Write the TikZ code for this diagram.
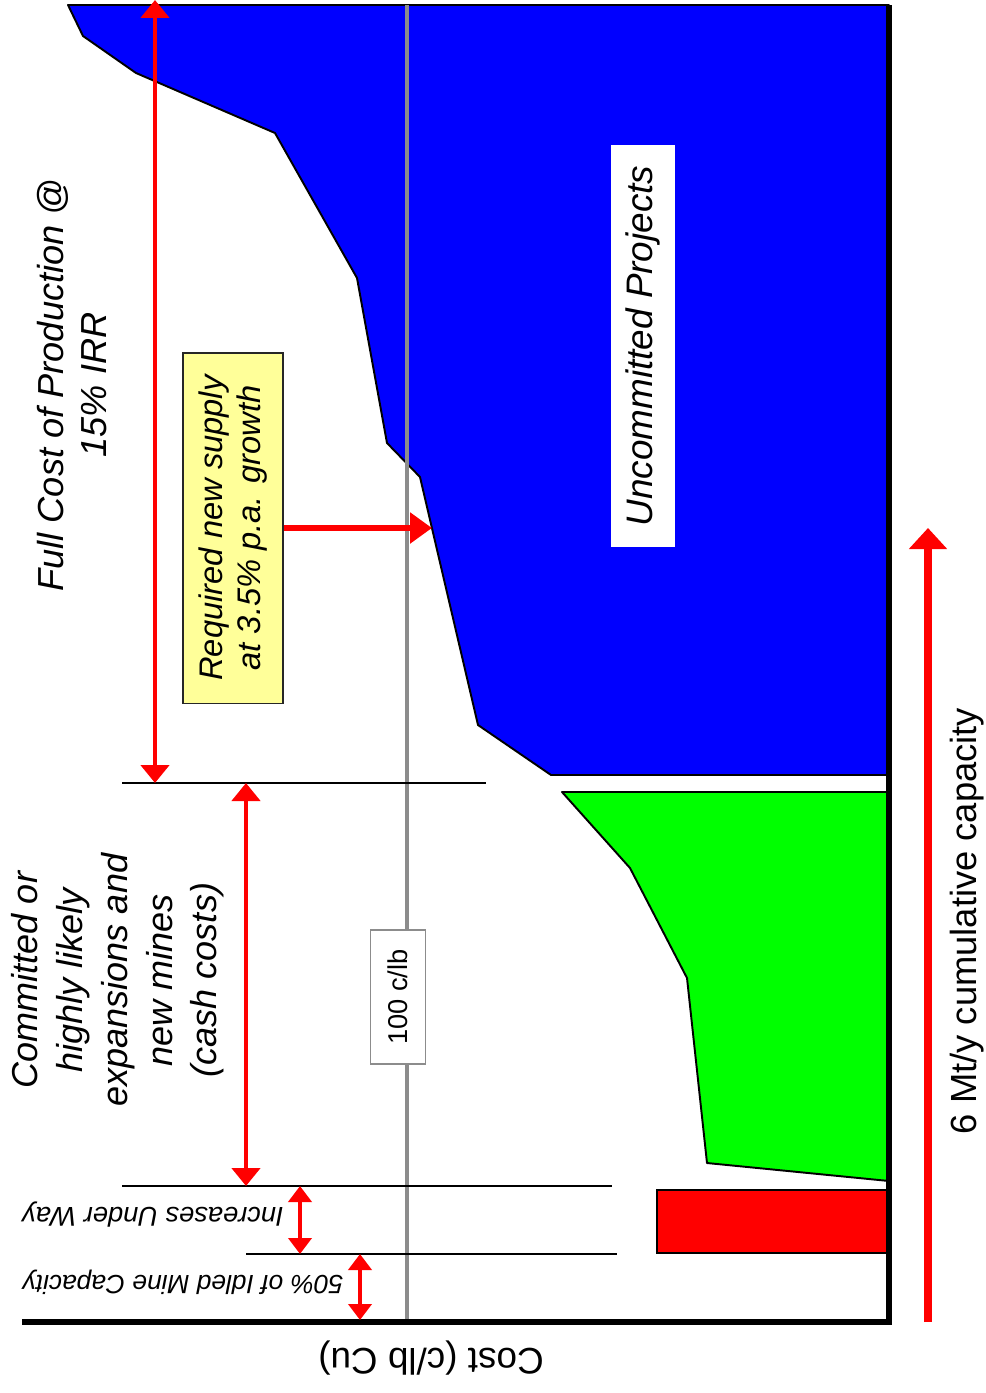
\documentclass[tikz,border=0pt]{standalone}
\usepackage{fontspec}
\setmainfont{Liberation Sans}
\usetikzlibrary{arrows.meta}

\definecolor{cblue}{RGB}{0,0,255}
\definecolor{cgreen}{RGB}{0,255,0}
\definecolor{cred}{RGB}{255,0,0}
\definecolor{cyellow}{RGB}{255,255,153}
\definecolor{cgray}{RGB}{140,140,140}

\tikzset{
  dimarrow/.style={draw=cred, line width=2.8pt,
    {Triangle[width=0.56cm,length=0.36cm]}-{Triangle[width=0.56cm,length=0.36cm]}},
  smallarrow/.style={draw=cred, line width=2.6pt,
    {Triangle[width=0.46cm,length=0.32cm]}-{Triangle[width=0.46cm,length=0.32cm]}},
  tickline/.style={draw=black, line width=1.2pt},
  lbl/.style={font=\itshape, align=center, inner sep=0pt}
}

\begin{document}
\begin{tikzpicture}[x=0.02cm, y=-0.02cm]
    \useasboundingbox (0,0) rectangle (985,1393);

    % cost blocks
    \draw[fill=cblue, line width=1.1pt, line join=round] (68,5) -- (83,36) -- (136,73) -- (275,133) -- (357,278)
        -- (387,443) -- (420,477) -- (478,725) -- (551,775) -- (889,775) -- (889,5) -- cycle;
    \draw[fill=cgreen, line width=1.1pt, line join=round] (562,792) -- (630,868) -- (687,978) -- (707,1163)
        -- (889,1181) -- (889,792) -- cycle;
    \draw[fill=cred, line width=1.1pt] (657,1190) rectangle (889,1253);

    % 100 c/lb line
    \coordinate (P1) at (407,5);
    \coordinate (P2) at (407,1322);
    \draw[cgray, line width=2.2pt] (P1) -- (P2);
    \node[draw=cgray, fill=white, line width=1.1pt, rotate=90, minimum width=2.68cm, minimum height=1.1cm,
        font=\fontsize{15.5}{18}\selectfont] (price) at (398,997) {100 c/lb};

    % axes
    \coordinate (O) at (889,1322);
    \coordinate (X0) at (22,1322);
    \coordinate (Y1) at (889,5);
    \draw[line width=3.6pt] (X0) -- (O) -- (Y1);

    % tick lines
    \coordinate (T1a) at (122,783);
    \coordinate (T1b) at (486,783);
    \coordinate (T2a) at (122,1186);
    \coordinate (T2b) at (612,1186);
    \coordinate (T3a) at (246,1254);
    \coordinate (T3b) at (617,1254);
    \draw[tickline] (T1a) -- (T1b);
    \draw[tickline] (T2a) -- (T2b);
    \draw[tickline] (T3a) -- (T3b);

    % span arrows
    \coordinate (A0) at (155,0);
    \coordinate (A1) at (155,783);
    \coordinate (B1) at (246,783);
    \coordinate (B2) at (246,1186);
    \coordinate (C1) at (300,1186);
    \coordinate (C2) at (300,1254);
    \coordinate (D1) at (360,1254);
    \coordinate (D2) at (360,1320);
    \draw[dimarrow] (A0) -- (A1);
    \draw[dimarrow] (B1) -- (B2);
    \draw[smallarrow] (C1) -- (C2);
    \draw[smallarrow] (D1) -- (D2);

    % capacity arrow
    \coordinate (K0) at (928,1322);
    \coordinate (K1) at (928,528);
    \draw[draw=cred, line width=4.4pt, -{Triangle[width=0.74cm,length=0.42cm]}] (K0) -- (K1);

    % labels
    \node[lbl, rotate=90, font=\itshape\fontsize{20.6}{24.5}\selectfont] (full) at (72,385)
        {Full Cost of Production @\\15\% IRR};
    \node[lbl, rotate=90, font=\itshape\fontsize{20.5}{25.5}\selectfont] (commit) at (118,980)
        {Committed or\\highly likely\\expansions and\\new mines\\(cash costs)};
    \node[lbl, rotate=180, font=\itshape\fontsize{15.5}{18}\selectfont] (underway) at (153,1215)
        {Increases Under Way};
    \node[lbl, rotate=180, font=\itshape\fontsize{15}{18}\selectfont] (idled) at (183,1282)
        {50\% of Idled Mine Capacity};
    \node[lbl, rotate=180, font=\fontsize{21}{24}\selectfont] (cost) at (431,1358)
        {Cost (c/lb Cu)};
    \node[lbl, rotate=90, font=\fontsize{20.7}{24}\selectfont] (cap) at (967,921)
        {6 Mt/y cumulative capacity};
    \node[fill=white, rotate=90, minimum width=8.04cm, minimum height=1.28cm,
        font=\itshape\fontsize{21}{25}\selectfont] (uncommit) at (643,346) {Uncommitted Projects};
    \node[draw=black!85, fill=cyellow, line width=1.1pt, rotate=90, minimum width=7.02cm, minimum height=2cm,
        align=center, font=\itshape\fontsize{18.6}{22}\selectfont] (req) at (233,528)
        {Required new supply\\at 3.5\% p.a. growth};

    % required supply pointer
    \coordinate (reqtip) at (432,528);
    \draw[draw=cred, line width=3.4pt, -{Triangle[width=0.6cm,length=0.44cm]}] (req.south) -- (reqtip);
\end{tikzpicture}
\end{document}
